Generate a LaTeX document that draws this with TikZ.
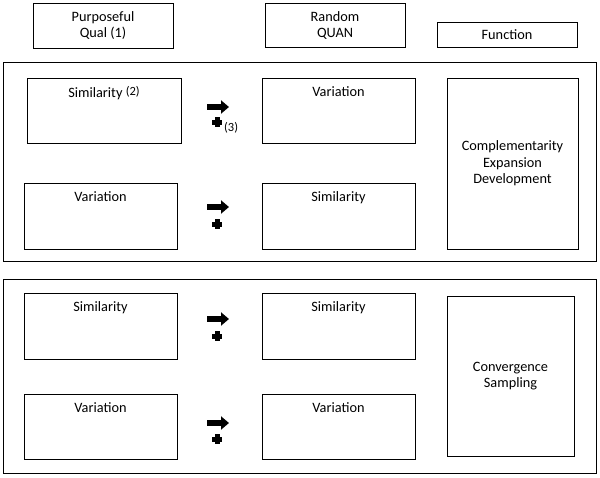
\documentclass[tikz,border=0pt]{standalone}
\usepackage{fontspec}
\setmainfont{Carlito}
\usepackage{tikz}
\usetikzlibrary{positioning,arrows.meta}

\tikzset{
  box/.style={draw, line width=0.8pt, inner sep=0pt},
  lbl/.style={anchor=north, inner sep=0pt, yshift=-9pt, align=center},
  fatarrow/.style={line width=5.5pt, -{Triangle[length=8pt,width=13pt]}},
  plusblob/.style={line width=5pt}
}
\newcommand{\refnum}[1]{{\fontsize{12.5}{14}\selectfont#1}}

\begin{document}
\begin{tikzpicture}[x=1pt,y=-1pt,font=\fontsize{14.3}{16.5}\selectfont]
  \useasboundingbox (0,0) rectangle (600,477);

  % headings
  \node[box, minimum width=140pt, minimum height=45pt, align=center] (qual) at (103,25.5) {Purposeful\\Qual (1)};
  \node[box, minimum width=140pt, minimum height=44pt, align=center] (quan) at (335,25.5) {Random\\QUAN};
  \node[box, minimum width=140pt, minimum height=25pt] (func) at (507,35) {Function};

  % first group
  \node[box, minimum width=593pt, minimum height=199pt] (grpa) at (299.5,161.5) {};
  \node[box, minimum width=154pt, minimum height=65pt] (asimq) at (104,110.5) {};
  \node[box, minimum width=153pt, minimum height=66pt] (avarq) at (100.5,216) {};
  \node[box, minimum width=153pt, minimum height=65pt] (avarn) at (338.5,110.5) {};
  \node[box, minimum width=153pt, minimum height=66pt] (asimn) at (338.5,216) {};
  \node[box, minimum width=131pt, minimum height=171pt, align=center] (afunc) at (512.5,163.5) {Complementarity\\Expansion\\Development};
  \node[lbl] at (asimq.north) {Similarity \raisebox{2pt}{\refnum{(2)}}};
  \node[lbl] at (avarq.north) {Variation};
  \node[lbl] at (avarn.north) {Variation};
  \node[lbl] at (asimn.north) {Similarity};

  % second group
  \node[box, minimum width=593pt, minimum height=194pt] (grpb) at (299.5,376) {};
  \node[box, minimum width=153pt, minimum height=66pt] (bsimq) at (100.5,326) {};
  \node[box, minimum width=153pt, minimum height=65pt] (bvarq) at (100.5,426.5) {};
  \node[box, minimum width=153pt, minimum height=66pt] (bsimn) at (338.5,326) {};
  \node[box, minimum width=153pt, minimum height=65pt] (bvarn) at (338.5,426.5) {};
  \node[box, minimum width=127pt, minimum height=160pt, align=center] (bfunc) at (510.5,376) {Convergence\\Sampling};
  \node[lbl] at (bsimq.north) {Similarity};
  \node[lbl] at (bvarq.north) {Variation};
  \node[lbl] at (bsimn.north) {Similarity};
  \node[lbl] at (bvarn.north) {Variation};

  % arrow and plus marks
  \coordinate (ar1) at (207,107);
  \coordinate (ar2) at (207,207);
  \coordinate (ar3) at (207,319);
  \coordinate (ar4) at (207,423);
  \draw[fatarrow] (ar1) -- ++(22,0);
  \draw[fatarrow] (ar2) -- ++(22,0);
  \draw[fatarrow] (ar3) -- ++(22,0);
  \draw[fatarrow] (ar4) -- ++(22,0);

  \coordinate (pl1) at (217,122);
  \coordinate (pl2) at (217,224);
  \coordinate (pl3) at (217,336);
  \coordinate (pl4) at (217,439);
  \draw[plusblob] (pl1) ++(-5,0) -- ++(10,0) (pl1) ++(0,-5) -- ++(0,10);
  \draw[plusblob] (pl2) ++(-5,0) -- ++(10,0) (pl2) ++(0,-5) -- ++(0,10);
  \draw[plusblob] (pl3) ++(-5,0) -- ++(10,0) (pl3) ++(0,-5) -- ++(0,10);
  \draw[plusblob] (pl4) ++(-5,0) -- ++(10,0) (pl4) ++(0,-5) -- ++(0,10);
  \node[anchor=west, inner sep=0pt] (note3) at (224,128) {\refnum{(3)}};
\end{tikzpicture}
\end{document}
